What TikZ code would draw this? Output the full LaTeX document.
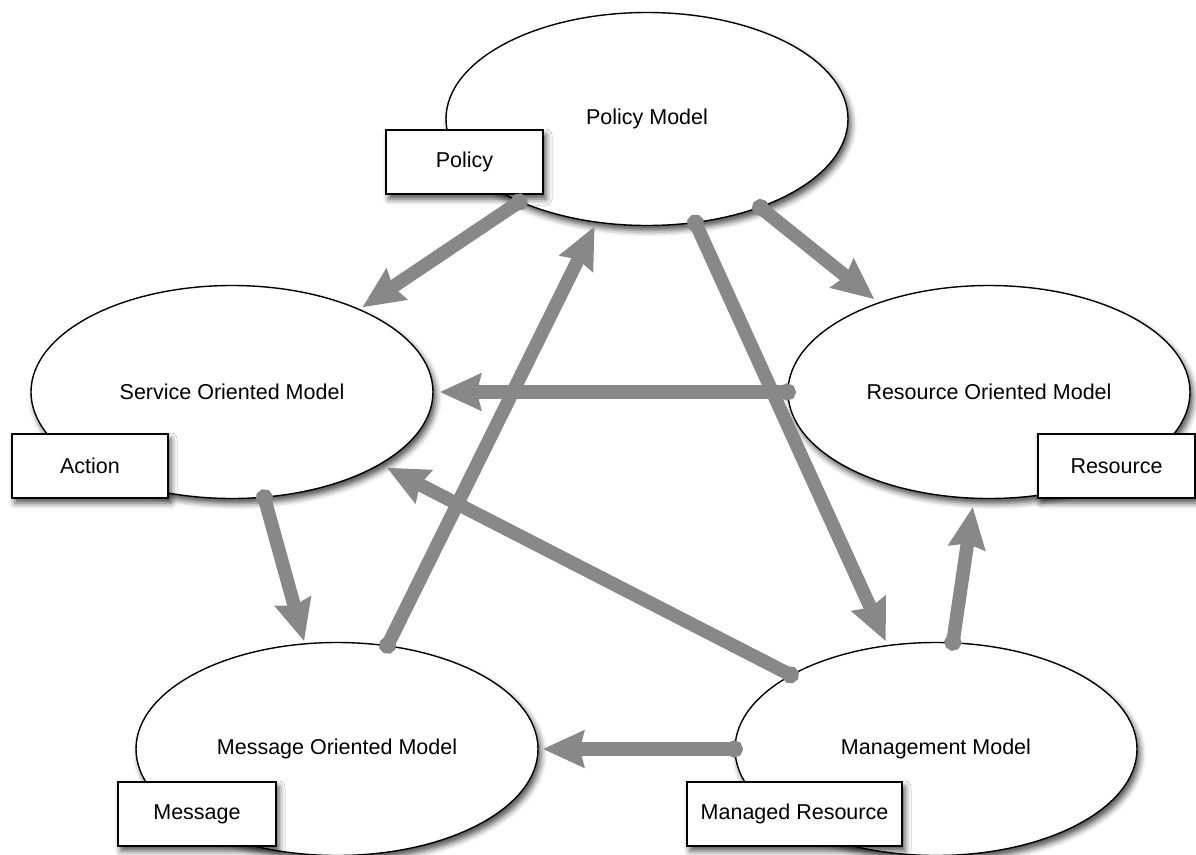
\documentclass[tikz,border=0pt]{standalone}
\usepackage{fontspec}
\setmainfont{Liberation Sans}
\usetikzlibrary{shapes.geometric,arrows.meta,shadows.blur}
\definecolor{linkgray}{RGB}{136,136,136}
\begin{document}
\begin{tikzpicture}[x=1pt,y=-1pt,
  labelfont/.style={font=\fontsize{21.5pt}{26pt}\selectfont},
  softshadow/.style={blur shadow={shadow xshift=3pt, shadow yshift=-5pt,
      shadow blur radius=6pt, shadow opacity=70}},
  model/.style={ellipse, draw=black, line width=1.4pt, fill=white,
      minimum width=402pt, minimum height=213pt, inner sep=0pt,
      labelfont, softshadow},
  concept/.style={rectangle, draw=black, line width=1.8pt, fill=white,
      minimum height=64pt, inner sep=0pt, labelfont, softshadow},
  link/.style={draw=linkgray, line width=13.5pt,
      {Circle[length=17pt]}-{Stealth[length=41pt,width=36pt,inset=4pt]},
      shorten <=-8.5pt}
]
\useasboundingbox (0,0) rectangle (1196,854);

% models
\node[model] (pol) at (647,119) {Policy Model};
\node[model] (som) at (232,392) {Service Oriented Model};
\node[model] (rom) at (989,392) {Resource Oriented Model};
\node[model] (mom) at (337,749) {Message Oriented Model};
\node[model] (mm)  at (936,749) {Management Model};

% key concepts of each model
\node[concept, minimum width=157pt] (policy)  at (464.5,162) {Policy};
\node[concept, minimum width=156pt] (action)  at (90,466)    {Action};
\node[concept, minimum width=157pt] (resource) at (1116.5,466) {Resource};
\node[concept, minimum width=158pt] (message) at (197,814)   {Message};
\node[concept, minimum width=215pt] (managed) at (794.5,814) {Managed Resource};

% relationships between the models
\draw[link, shorten >=3pt] (pol.213) -- (som.33);
\draw[link, shorten >=5pt] (pol.-38) -- (rom.141);
\draw[link, shorten >=4pt] (pol.-65) -- (mm.115);
\draw[link, shorten >=4pt] (mom.64)  -- (pol.244);
\draw[link, shorten >=6pt] (rom.west) -- (som.east);
\draw[link, shorten >=2pt] (som.-73) -- (mom.107);
\draw[link, shorten >=7pt] (mm.153)  -- (som.-26.5);
\draw[link, shorten >=8pt] (mm.81)   -- (rom.-98);
\draw[link, shorten >=4pt] (mm.west) -- (mom.east);
\end{tikzpicture}
\end{document}
